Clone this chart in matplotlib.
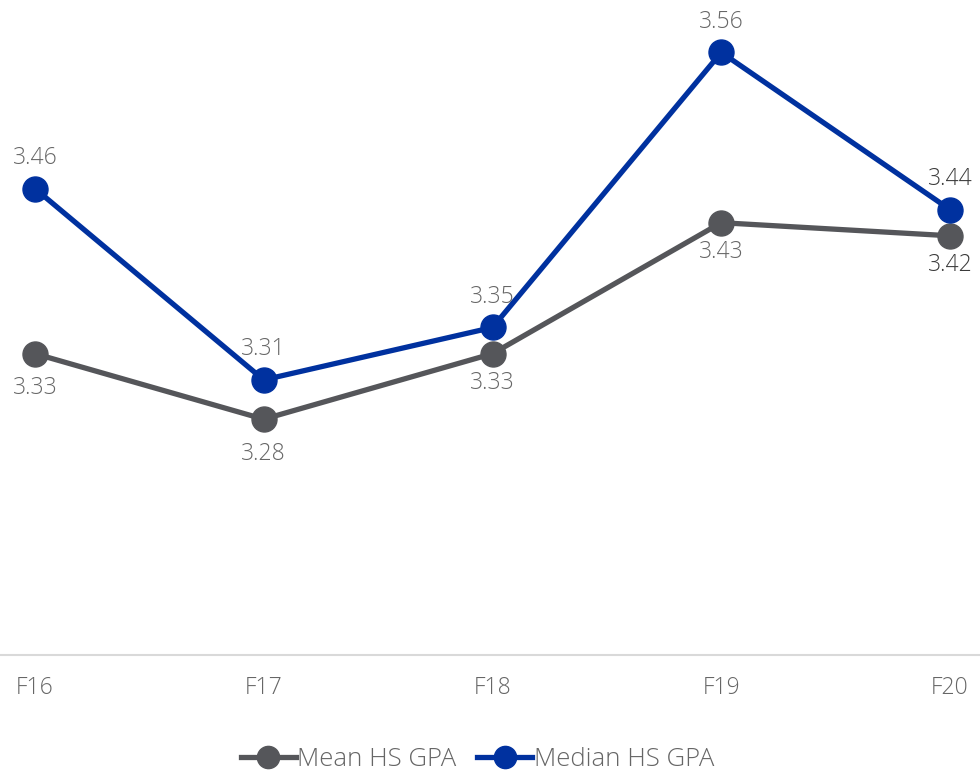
import matplotlib
matplotlib.use('Agg')
import matplotlib.pyplot as plt
from matplotlib.lines import Line2D

terms = ['F16', 'F17', 'F18', 'F19', 'F20']
mean_gpa = [3.33, 3.28, 3.33, 3.43, 3.42]
median_gpa = [3.456, 3.31, 3.35, 3.56, 3.44]

plt.rcParams['font.family'] = ['Open Sans', 'DejaVu Sans']

gray = '#55565a'
blue = '#00319f'
txt = '#666666'
wt = 'light'

fig = plt.figure(figsize=(9.8, 7.72), dpi=100)
ax = fig.add_axes([0, 0.1516, 1, 0.8484])

x = list(range(len(terms)))
ax.plot(x, mean_gpa, color=gray, lw=3.8, marker='o', ms=18, label='Mean HS GPA')
ax.plot(x, median_gpa, color=blue, lw=3.8, marker='o', ms=18, label='Median HS GPA')

# labels: median above, mean below
for i, v in enumerate(median_gpa):
    c = '#3a3a3a' if i == len(terms) - 1 else txt
    ax.annotate(f'{v:.2f}', (i, v), xytext=(0, 22), textcoords='offset points',
                ha='center', va='center', fontsize=16.5, color=c, fontweight=wt)
for i, v in enumerate(mean_gpa):
    c = '#3a3a3a' if i == len(terms) - 1 else txt
    off = -25 if i in (0, 1) else -21
    ax.annotate(f'{v:.2f}', (i, v), xytext=(0, off), textcoords='offset points',
                ha='center', va='center', fontsize=16.5, color=c, fontweight=wt)

ax.set_ylim(3.1, 3.6)
ax.set_xlim(-35 / 228.75, 4 + 30 / 228.75)
ax.set_xticks(x)
ax.set_xticklabels(terms, fontsize=16.5, color=txt, fontweight=wt)
ax.tick_params(axis='x', length=0, pad=15)
ax.set_yticks([])
for s in ['top', 'right', 'left']:
    ax.spines[s].set_visible(False)
ax.spines['bottom'].set_color('#d9d9d9')
ax.spines['bottom'].set_linewidth(1.5)

handles = [Line2D([], [], color=gray, lw=3.8, marker='o', ms=16),
           Line2D([], [], color=blue, lw=3.8, marker='o', ms=16)]
leg = fig.legend(handles, ['Mean HS GPA', 'Median HS GPA'], loc='center',
                 bbox_to_anchor=(0.487, 0.016), ncol=2, frameon=False,
                 prop={'size': 18.5, 'weight': wt}, handlelength=2.15,
                 handletextpad=0.05, columnspacing=0.8)
for t in leg.get_texts():
    t.set_color(txt)

fig.savefig('out.png', dpi=100)
